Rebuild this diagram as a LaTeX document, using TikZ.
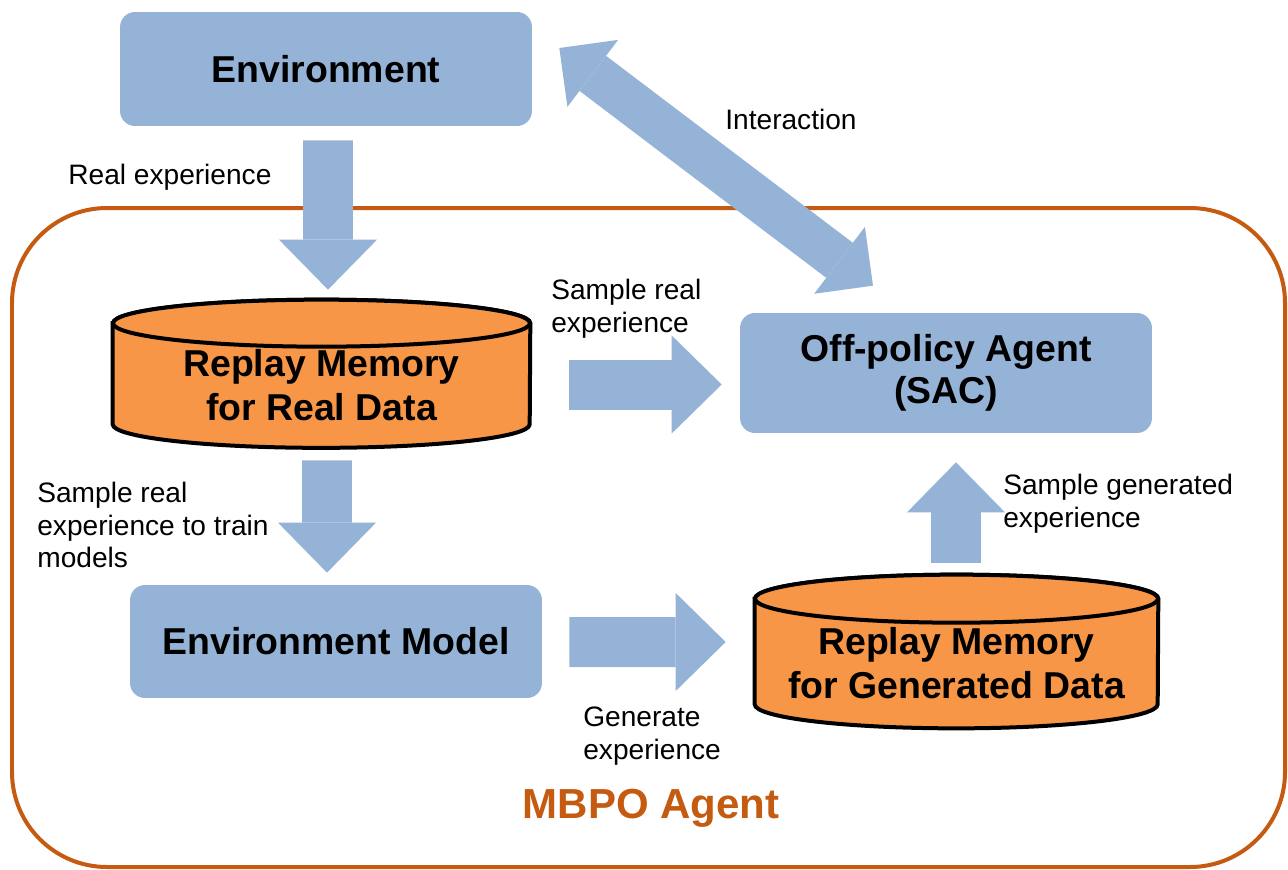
\documentclass[tikz,border=0pt]{standalone}
\usepackage{fontspec}
\setmainfont{Liberation Sans}
\usepackage{xcolor}
\usepackage{tikz}
\usetikzlibrary{calc, arrows.meta, backgrounds}

\definecolor{boxblue}{HTML}{95B3D7}
\definecolor{drumorange}{HTML}{F79646}
\definecolor{frameorange}{HTML}{C55A11}

\begin{document}
\begin{tikzpicture}[x=0.02cm, y=-0.02cm,
    box/.style={rectangle, rounded corners=0.3cm, fill=boxblue, minimum width=8.24cm,
        align=center, font=\fontsize{21.3}{24}\selectfont\bfseries},
    drum/.style={rectangle, align=center, inner sep=0, minimum height=2.48cm,
        font=\fontsize{21.3}{25}\selectfont\bfseries},
    cyl/.style={draw=black, fill=drumorange, line width=0.08cm},
    lbl/.style={anchor=west, align=left, inner sep=0, font=\fontsize{16}{18.7}\selectfont},
    fat/.style={color=boxblue, line width=1cm,
        -{Triangle[length=1cm 0, width=1.96cm 0, line width=0pt]}}]
    \useasboundingbox (0,0) rectangle (1288,869);

    % 1. Khung MBPO Agent
    \draw[frameorange, line width=0.08cm, rounded corners=1.9cm] (12,208) rectangle (1285,867);
    \node[font=\fontsize{23.9}{28}\selectfont\bfseries, text=frameorange] (mbpo) at (651,808) {MBPO Agent};

    % 2. Các khối xanh
    \node[box, minimum height=2.28cm] (env) at (326,69) {Environment};
    \node[box, minimum height=2.4cm] (agent) at (946,373) {Off-policy Agent\\(SAC)};
    \node[box, minimum height=2.26cm] (envm) at (336,641.5) {Environment Model};

    % 3. Hai bộ nhớ hình trụ
    \node[drum, minimum width=8.34cm] (rmreal) at (321.5,385.5) {Replay Memory\\for Real Data};
    \node[drum, minimum width=8.06cm, minimum height=2.58cm] (rmgen) at (956.5,663.5) {Replay Memory\\for Generated Data};
    \begin{scope}[on background layer]
        \filldraw[cyl] (rmreal.north west) -- ($(rmreal.south west)+(0,-23.5)$)
            arc[start angle=180, end angle=0, x radius=208.5, y radius=23.5]
            -- (rmreal.north east)
            arc[start angle=0, end angle=-180, x radius=208.5, y radius=23.5] -- cycle;
        \draw[cyl] (rmreal.north) ellipse[x radius=208.5, y radius=23.5];
        \filldraw[cyl] (rmgen.north west) -- ($(rmgen.south west)+(0,-24)$)
            arc[start angle=180, end angle=0, x radius=201.5, y radius=24]
            -- (rmgen.north east)
            arc[start angle=0, end angle=-180, x radius=201.5, y radius=24] -- cycle;
        \draw[cyl] (rmgen.north) ellipse[x radius=201.5, y radius=24];
    \end{scope}

    % 4. Các mũi tên khối
    \draw[fat] ($(env.south)+(2,14)$) -- ($(rmreal.north)+(6.5,-33.5)$);
    \draw[color=boxblue, line width=0.88cm,
        {Triangle[length=0.84cm 0, width=1.68cm 0, line width=0pt]}-{Triangle[length=0.84cm 0, width=1.68cm 0, line width=0pt]}]
        ($(env.east)+(27,-21)$) -- ($(agent.north)+(-73,-27)$);
    \draw[fat] ($(rmreal.east)+(39,-1)$) -- ($(agent.west)+(-18,11.5)$);
    \draw[fat] ($(rmreal.south)+(5.5,12.5)$) -- ($(envm.north)+(-9,-12)$);
    \draw[fat] ($(envm.east)+(27,0.5)$) -- ($(rmgen.west)+(-29,-21.5)$);
    \draw[fat] ($(rmgen.north)+(-0.5,-36)$) -- ($(agent.south)+(10,29)$);

    % 5. Nhãn
    \node[lbl] (lreal) at (68,177) {Real experience};
    \node[lbl] (linter) at (725,119) {Interaction};
    \node[lbl] (lsreal) at (551,309) {Sample real\\experience};
    \node[lbl] (ltrain) at (37,525) {Sample real\\experience to train\\models};
    \node[lbl] (lsgen) at (1003,504) {Sample generated\\experience};
    \node[lbl] (lgen) at (583,736) {Generate\\experience};

\end{tikzpicture}
\end{document}
